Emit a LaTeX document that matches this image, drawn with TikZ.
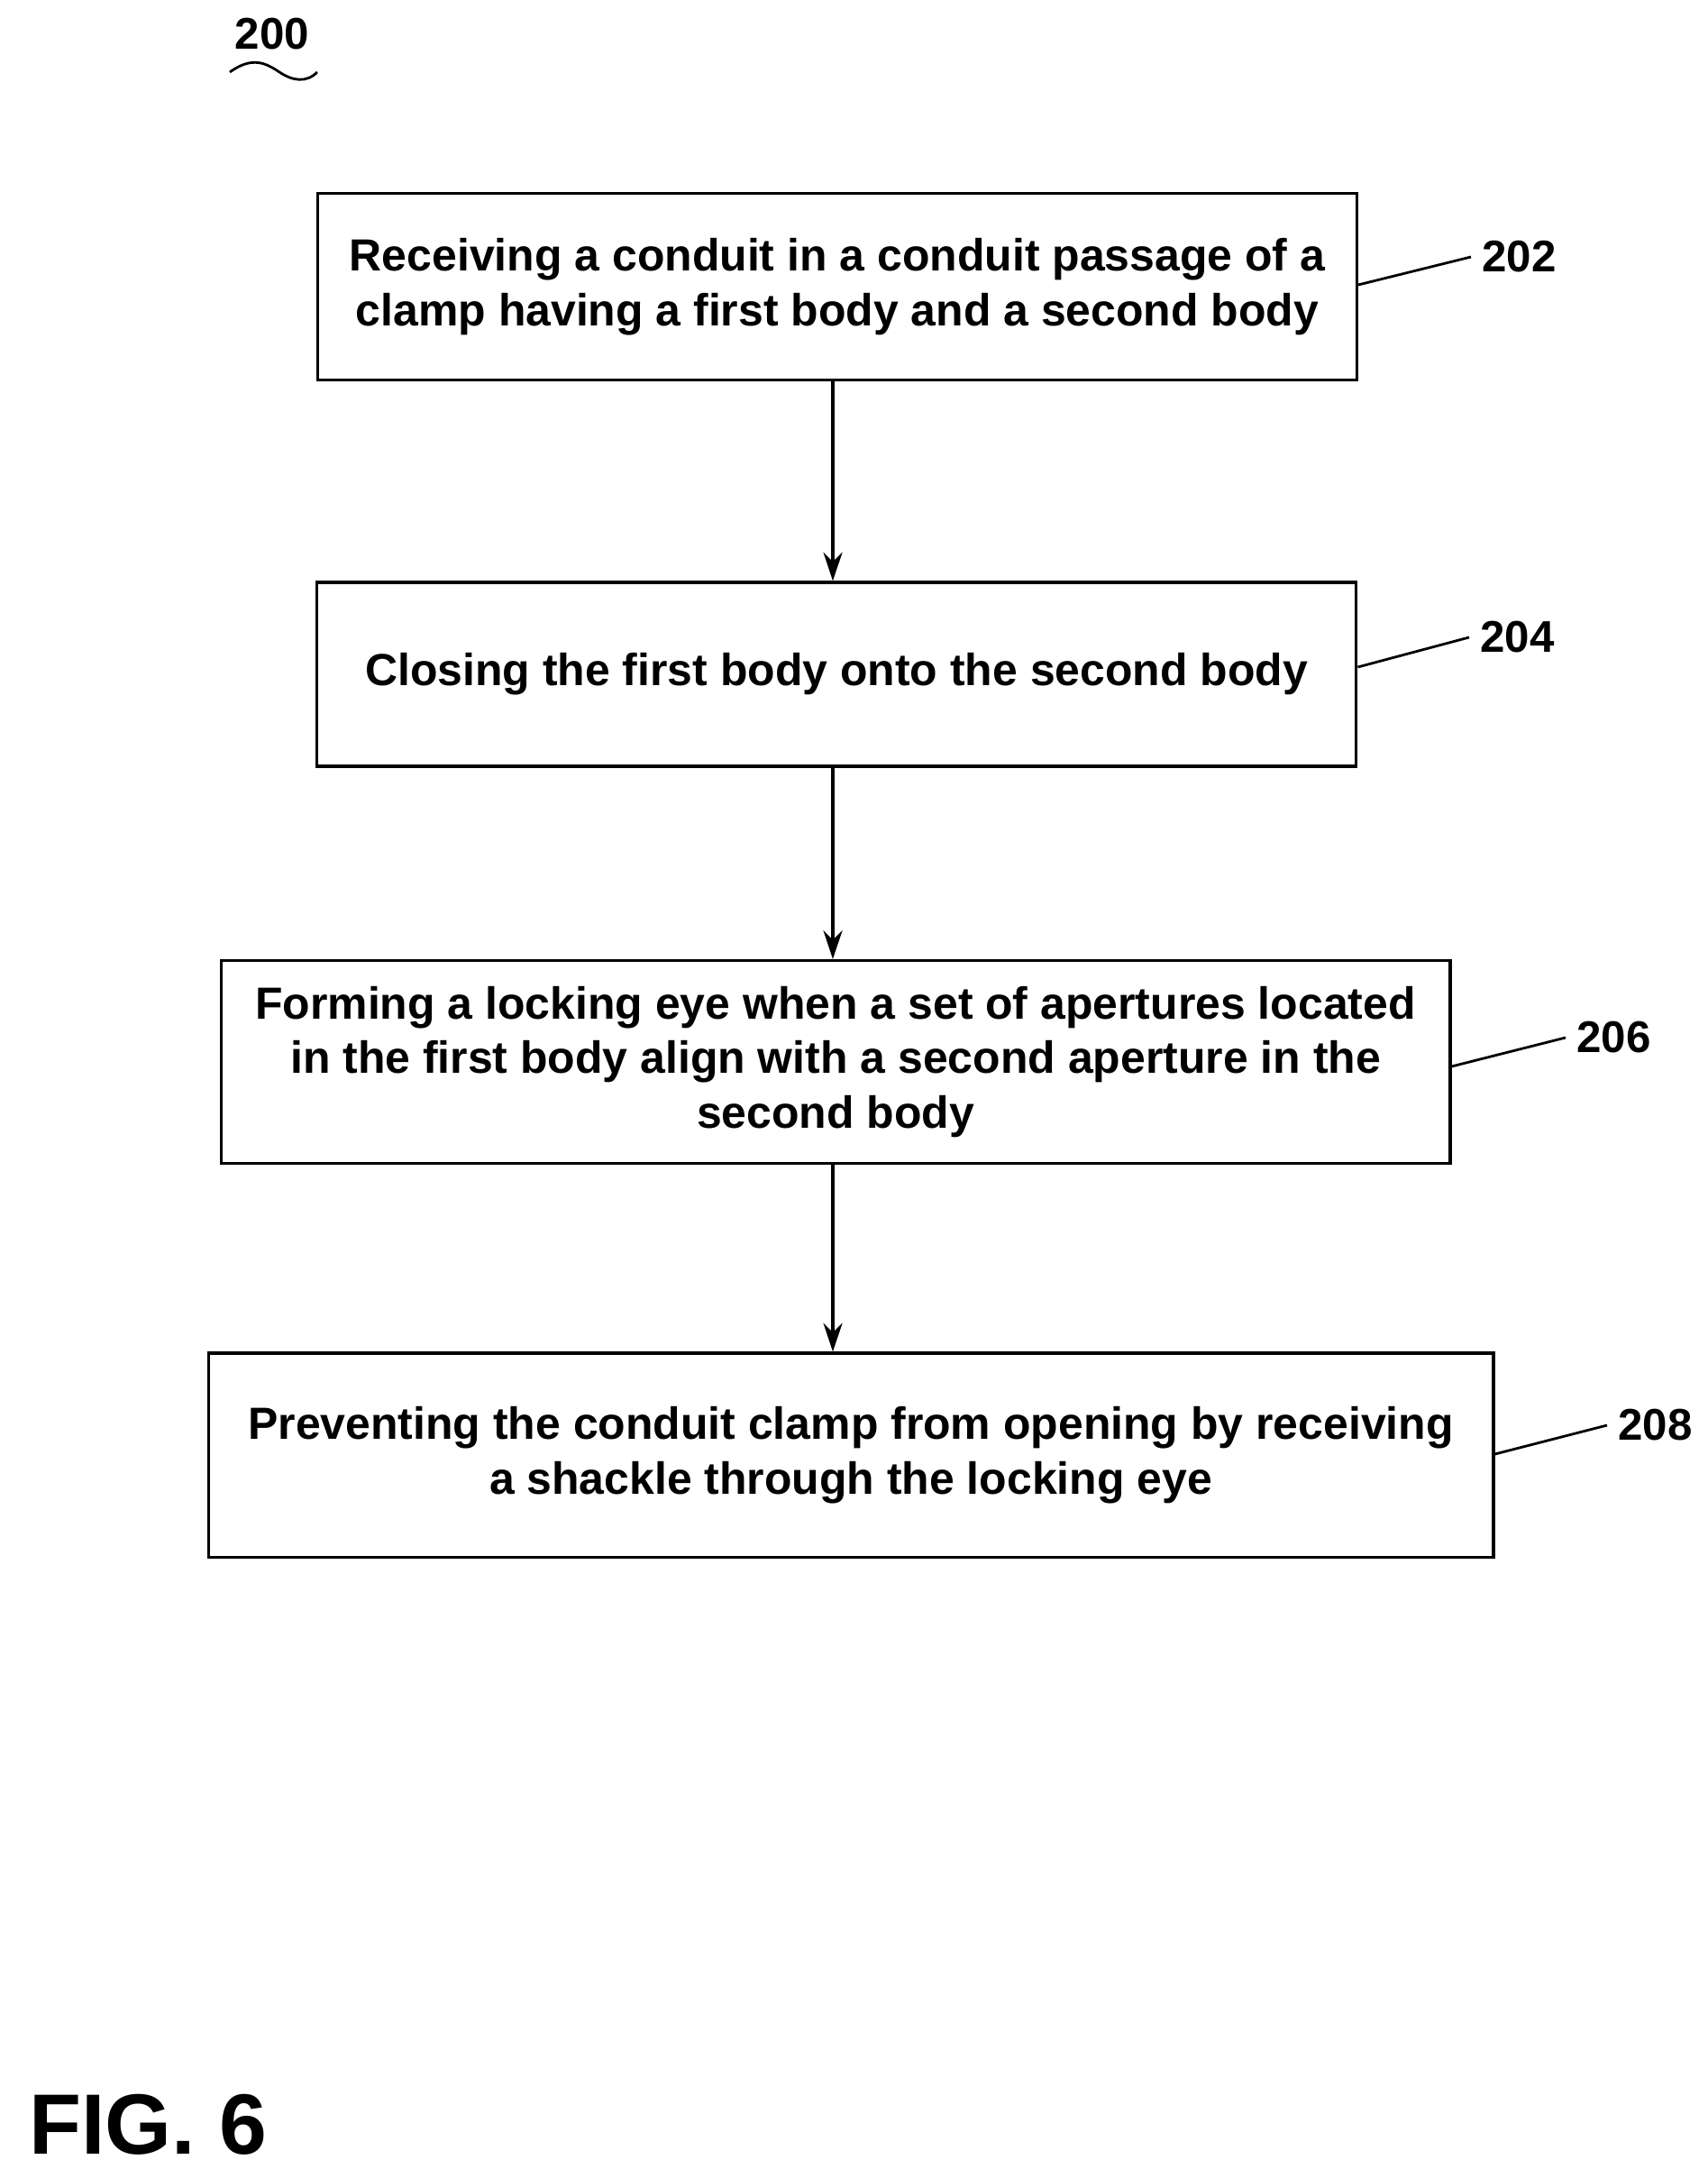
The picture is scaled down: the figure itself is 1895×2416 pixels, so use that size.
\documentclass[tikz,border=0pt]{standalone}
\usepackage{fontspec}
\setmainfont{Liberation Sans}
\usetikzlibrary{arrows.meta}
\begin{document}
\begin{tikzpicture}[x=0.01cm,y=-0.01cm,
  stepbox/.style={draw, line width=0.9pt, inner sep=0pt, align=center,
    font=\fontsize{14.2}{17.2}\selectfont\bfseries},
  ref/.style={font=\fontsize{14}{15}\selectfont\bfseries, anchor=west},
  flow/.style={line width=0.9pt, -{Stealth[length=9pt,width=6pt]}}]

\useasboundingbox (0,0) rectangle (1895,2416);

%Otsikko
\node[ref, anchor=center] (fig) at (302,38) {200};
\draw[line width=0.8pt] (255,80) .. controls (280,62) and (295,70) .. (310,80)
  .. controls (325,90) and (340,92) .. (352,80);

%Laatikot
\node[stepbox, minimum width=11.52cm, minimum height=2.07cm] (s202) at (929,318)
  {Receiving a conduit in a conduit passage of a\\clamp having a first body and a second body};
\node[stepbox, minimum width=11.53cm, minimum height=2.04cm] (s204) at (928,748)
  {Closing the first body onto the second body};
\node[stepbox, minimum width=13.63cm, minimum height=2.25cm] (s206) at (927,1178)
  {Forming a locking eye when a set of apertures located\\in the first body align with a second aperture in the\\second body};
\node[stepbox, minimum width=14.25cm, minimum height=2.26cm] (s208) at (944,1614)
  {Preventing the conduit clamp from opening by receiving\\a shackle through the locking eye};

%Nuolet
\draw[flow] (s202.south -| 924,0) -- (s204.north -| 924,0);
\draw[flow] (s204.south -| 924,0) -- (s206.north -| 924,0);
\draw[flow] (s206.south -| 924,0) -- (s208.north -| 924,0);

%Viitenumerot
\node[ref] (n202) at (1632,285) {202};
\node[ref] (n204) at (1630,707) {204};
\node[ref] (n206) at (1737,1151) {206};
\node[ref] (n208) at (1783,1581) {208};
\draw[line width=0.8pt] (s202.east |- 0,316) -- (n202.west);
\draw[line width=0.8pt] (s204.east |- 0,740) -- (n204.west);
\draw[line width=0.8pt] (s206.east |- 0,1183) -- (n206.west);
\draw[line width=0.8pt] (s208.east |- 0,1613) -- (n208.west);

\node[anchor=west, font=\fontsize{27}{27}\selectfont\bfseries] (cap) at (20,2357) {FIG. 6};
\end{tikzpicture}
\end{document}
